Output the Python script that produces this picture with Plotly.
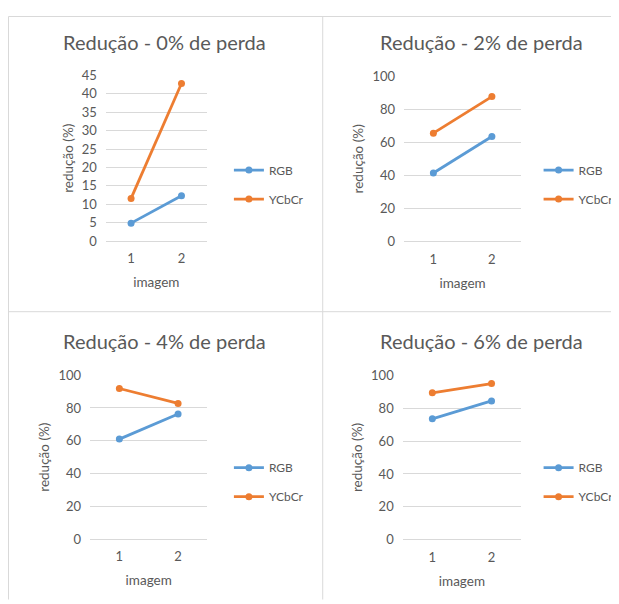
import plotly.graph_objects as go

# Figure size; the page adds the default 8px body margin
W, H = 611, 600
# empirical mapping from figure pixels to screenshot pixels (calibrated from renders)
AX, SX = 8.0, 0.98
AY, SY = 16.5, 0.976

categories = [1, 2]
titles = ["Redução - 0% de perda", "Redução - 2% de perda",
          "Redução - 4% de perda", "Redução - 6% de perda"]
rgb_values = [[4.9, 12.3], [41.4, 63.5], [61.0, 76.3], [73.5, 84.4]]
ycbcr_values = [[11.6, 42.8], [65.5, 87.6], [91.9, 82.8], [89.3, 94.9]]
y_ranges = [[0, 45], [0, 100], [0, 100], [0, 100]]
y_dticks = [5, 20, 20, 20]
x_title = "imagem"
y_title = "redução (%)"
series_names = ["RGB", "YCbCr"]

BLUE = "#5B9BD5"
ORANGE = "#ED7D31"
TEXT = "#595959"
GRID = "#D9D9D9"
FONT = "Lato, 'Open Sans', sans-serif"

# target positions in screenshot pixels: plot areas (x0, x1, y_top, y_bottom)
areas = [(105, 205, 76, 242.3), (400.7, 516.7, 76.7, 242.7),
         (89.3, 205.7, 376.7, 541), (399.3, 516.7, 376.7, 541.7)]
title_pos = [(163, 43), (477, 43), (163, 342), (477, 342)]
legend_pos = [(227, 185.5), (534, 185.5), (227, 484), (534, 484)]


def px(x):
    return min(max((x - AX) / SX, 0.5), W - 0.5) / W


def py(y):
    return 1 - min(max((y - AY) / SY, 0.5), H - 0.5) / H


fig = go.Figure()
layout = dict(width=W, height=H, margin=dict(l=0, r=0, t=0, b=0),
              paper_bgcolor="white", plot_bgcolor="white",
              font=dict(family=FONT, color=TEXT, size=12),
              annotations=[], shapes=[])

for i in range(4):
    n = "" if i == 0 else str(i + 1)
    xa, ya = "x" + n, "y" + n
    leg = "legend" + n
    for name, vals, col in [(series_names[0], rgb_values[i], BLUE),
                            (series_names[1], ycbcr_values[i], ORANGE)]:
        fig.add_trace(go.Scatter(x=categories, y=vals, mode="lines+markers",
                                 name=name, xaxis=xa, yaxis=ya, legend=leg,
                                 legendgroup=name + n,
                                 line=dict(color=col, width=2.8),
                                 marker=dict(color=col, size=7)))
    x0, x1, y0, y1 = areas[i]
    layout["xaxis" + n] = dict(domain=[px(x0), px(x1)], anchor=ya,
                               range=[0.5, 2.5], tickvals=categories,
                               ticktext=[str(c) for c in categories],
                               showgrid=False, zeroline=False, showline=False,
                               ticklabelstandoff=8,
                               tickfont=dict(size=13, color=TEXT),
                               title=dict(text=x_title, standoff=12,
                                          font=dict(size=13.5, color=TEXT)),
                               fixedrange=True)
    layout["yaxis" + n] = dict(domain=[py(y1), py(y0)], anchor=xa,
                               range=y_ranges[i], dtick=y_dticks[i],
                               showgrid=True, gridcolor=GRID, gridwidth=1,
                               zeroline=True, zerolinecolor=GRID, zerolinewidth=1,
                               showline=False, ticklabelstandoff=8,
                               tickfont=dict(size=13, color=TEXT),
                               title=dict(text=y_title, standoff=5,
                                          font=dict(size=13.5, color=TEXT)),
                               fixedrange=True)
    lx, ly = legend_pos[i]
    layout[leg] = dict(x=px(lx), y=py(ly), xanchor="left", yanchor="middle",
                       traceorder="grouped", tracegroupgap=10,
                       font=dict(size=12, color=TEXT),
                       bgcolor="rgba(0,0,0,0)", itemwidth=30)
    tx, ty = title_pos[i]
    layout["annotations"].append(dict(text=titles[i], x=px(tx), y=py(ty),
                                      xref="paper", yref="paper",
                                      showarrow=False, xanchor="center",
                                      yanchor="middle",
                                      font=dict(size=20, color=TEXT)))

# panel borders (screenshot pixel coordinates)
border = dict(type="line", xref="paper", yref="paper",
              line=dict(color=GRID, width=1))
for (a, b, c, d) in [(8.5, 14, 619, 14), (8.5, 14, 8.5, 604),
                     (320, 14, 320, 604), (8.5, 313, 619, 313)]:
    layout["shapes"].append(dict(border, x0=px(a), y0=py(b), x1=px(c), y1=py(d)))

fig.update_layout(**layout)
fig.write_html("out.html")
